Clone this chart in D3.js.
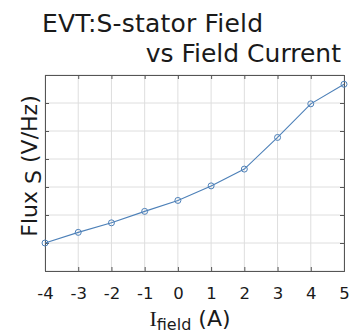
<!DOCTYPE html>
<html>
<head>
<meta charset="UTF-8">
<script src="https://d3js.org/d3.v7.min.js"></script>
<style>
  body { margin:0; background:#fff; }
  text { font-family: "DejaVu Sans", Verdana, sans-serif; fill:#1a1a1a; }
</style>
</head>
<body>
<div id="chart"></div>
<script>
// data
const current = [-4, -3, -2, -1, 0, 1, 2, 3, 4, 5];
const flux = [1.0, 1.38, 1.72, 2.13, 2.52, 3.04, 3.64, 4.77, 5.97, 6.67];
const xTicks = [-4, -3, -2, -1, 0, 1, 2, 3, 4, 5];
const yTicks = [0, 1, 2, 3, 4, 5, 6, 7];

const W = 353, H = 333;
const margin = {top:75, right:9, bottom:62, left:45};
const width = W - margin.left - margin.right,
      height = H - margin.top - margin.bottom;

const svg = d3.select('#chart').append('svg')
  .attr('width', W).attr('height', H);

const g = svg.append('g').attr('transform', `translate(${margin.left},${margin.top})`);

const x = d3.scaleLinear().domain([-4, 5]).range([0, width]);
const y = d3.scaleLinear().domain([0, 7]).range([height, 0]);

// grid
g.selectAll('line.gx').data(xTicks).enter().append('line')
  .attr('x1', d=>x(d)).attr('x2', d=>x(d)).attr('y1', 0).attr('y2', height)
  .attr('stroke', '#dedede').attr('stroke-width', 1);
g.selectAll('line.gy').data(yTicks).enter().append('line')
  .attr('y1', d=>y(d)).attr('y2', d=>y(d)).attr('x1', 0).attr('x2', width)
  .attr('stroke', '#dedede').attr('stroke-width', 1);

// axes (ticks inside, labels only on x)
const xAxis = g.append('g').attr('transform', `translate(0,${height})`)
  .call(d3.axisBottom(x).tickValues(xTicks).tickSize(-4).tickPadding(16).tickFormat(d => String(d)));
const xTop = g.append('g')
  .call(d3.axisTop(x).tickValues(xTicks).tickSize(-4).tickFormat(''));
const yAxis = g.append('g')
  .call(d3.axisLeft(y).tickValues(yTicks).tickSize(-4).tickFormat(''));
const yRight = g.append('g').attr('transform', `translate(${width},0)`)
  .call(d3.axisRight(y).tickValues(yTicks).tickSize(-4).tickFormat(''));
[xAxis, xTop, yAxis, yRight].forEach(a => {
  a.select('.domain').attr('stroke', '#555');
  a.selectAll('.tick line').attr('stroke', '#555');
});
xAxis.selectAll('.tick text')
  .style('font-family', '"DejaVu Sans", sans-serif')
  .attr('font-size', 16.5).attr('fill', '#1a1a1a');

// line + markers
const pts = current.map((c,i)=>({c, f:flux[i]}));
g.append('path').datum(pts)
  .attr('fill', 'none').attr('stroke', '#4d80b8').attr('stroke-width', 1.1)
  .attr('d', d3.line().x(d=>x(d.c)).y(d=>y(d.f)));
g.selectAll('circle').data(pts).enter().append('circle')
  .attr('cx', d=>x(d.c)).attr('cy', d=>y(d.f)).attr('r', 3)
  .attr('fill', 'none').attr('stroke', '#4d80b8').attr('stroke-width', 1);

// titles
svg.append('text').attr('x', 42).attr('y', 32).attr('font-size', 25).attr('textLength', 221).text('EVT:S-stator Field');
svg.append('text').attr('x', 341).attr('y', 62).attr('text-anchor', 'end').attr('font-size', 25).text('vs Field Current');

// x label
const xl = svg.append('text').attr('x', 190).attr('y', 326).attr('text-anchor', 'middle').attr('font-size', 22);
xl.append('tspan').style('font-family', '"Liberation Serif", serif').text('I');
xl.append('tspan').attr('font-size', 16).attr('dy', 4).text('field');
xl.append('tspan').attr('dy', -4).text(' (A)');

// y label
const yl = svg.append('text').attr('transform', 'translate(37,166) rotate(-90)')
  .attr('text-anchor', 'middle').attr('font-size', 22);
yl.append('tspan').text('Flux ');
yl.append('tspan').attr('dy', 4).text('S');
yl.append('tspan').attr('dy', -4).text(' (V/Hz)');
</script>
</body>
</html>
